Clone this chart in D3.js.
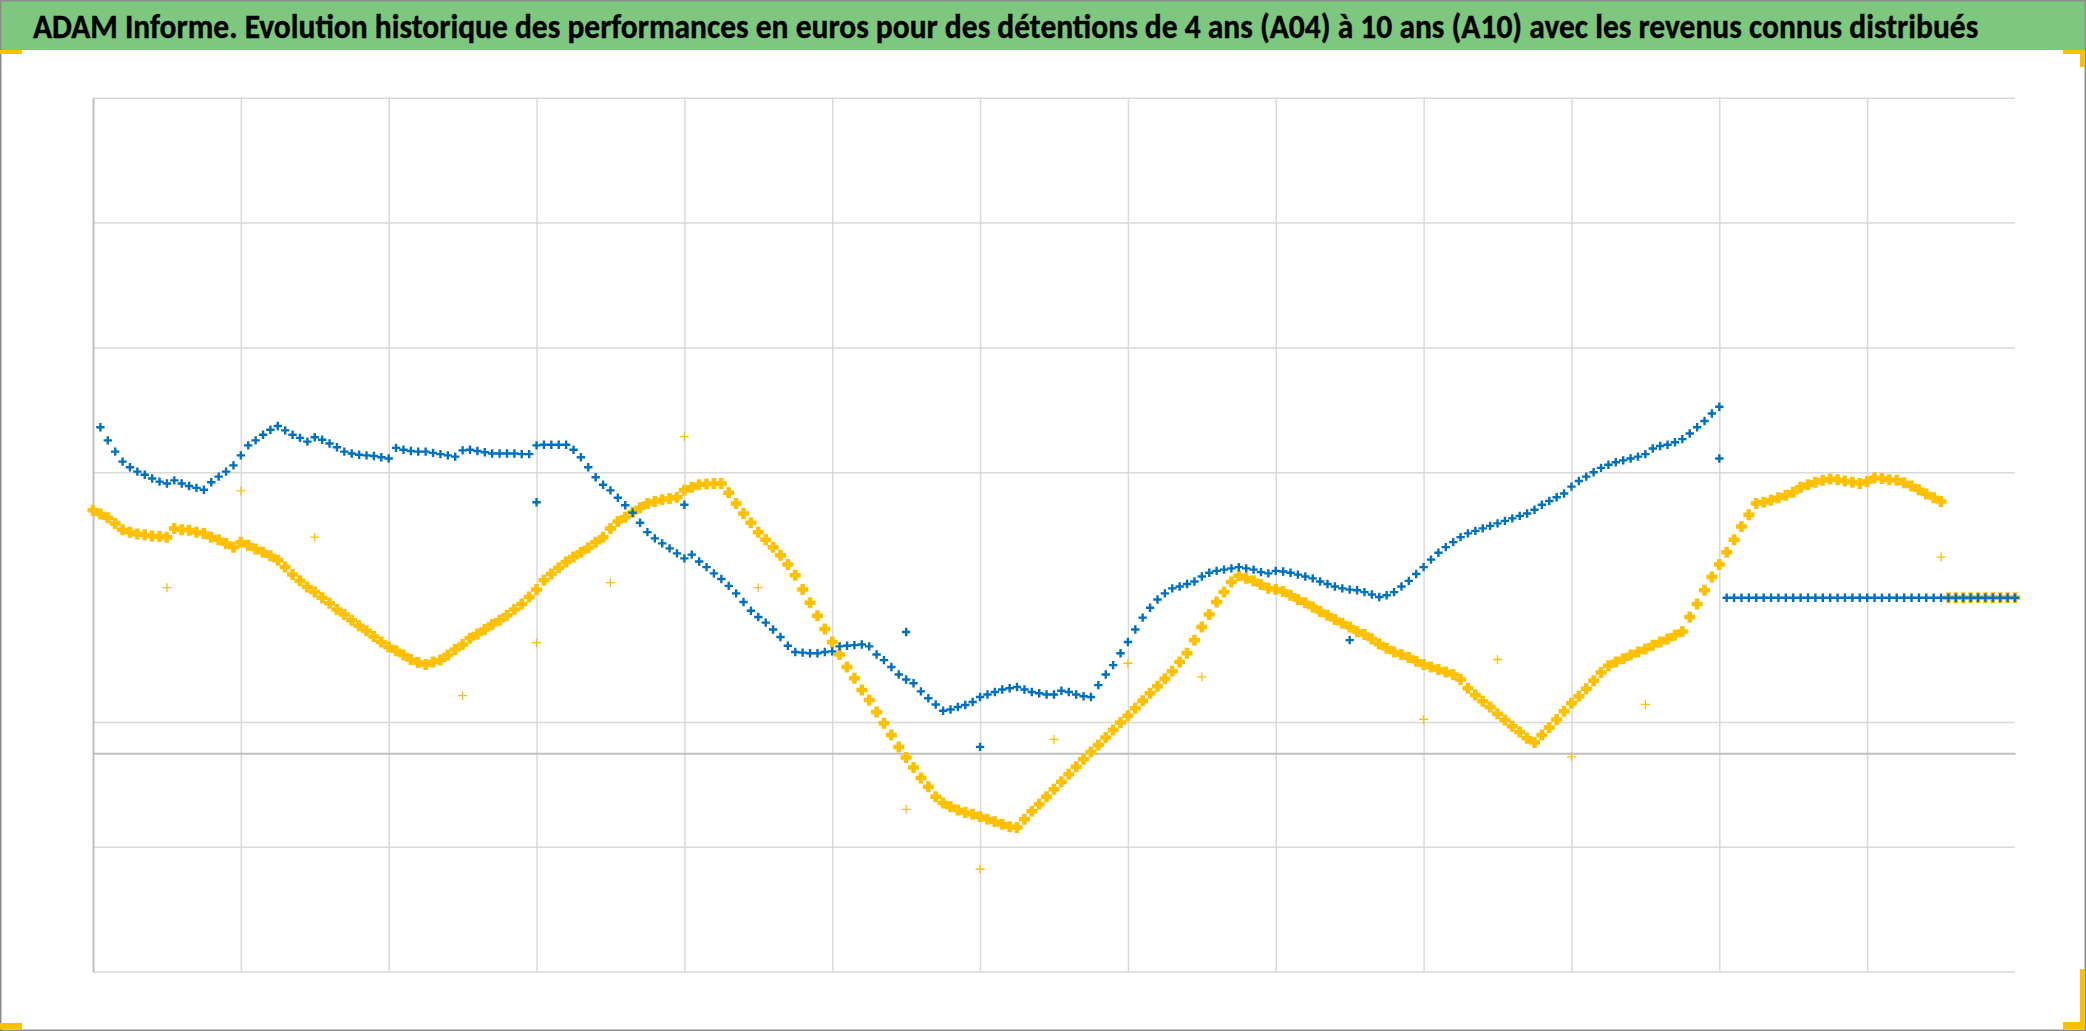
<!DOCTYPE html>
<html><head><meta charset="utf-8">
<script src="https://cdn.jsdelivr.net/npm/d3@7"></script>
<style>html,body{margin:0;padding:0;background:#fff;overflow:hidden}</style>
</head><body>
<svg id="c" width="2086" height="1031"></svg>
<script>
const titleText = "ADAM Informe. Evolution historique des performances en euros pour des détentions de 4 ans (A04) à 10 ans (A10) avec les revenus connus distribués";

// x: period index (20 periods per vertical grid interval), 0..260
const xDomain = [0, 260];
const xGridIdx = [20, 40, 60, 80, 100, 120, 140, 160, 180, 200, 220, 240];
// y: performance values
const yDomain = [-35, 105];
const yGridValues = [-35, -15, 5, 45, 65, 85, 105];

// Blue series, one value per period (null = no value)
const blueValues = [null,
52.2,50.1,48.3,46.7,45.8,45.1,44.6,44.0,43.5,43.2,
43.7,43.2,42.8,42.5,42.2,43.4,44.3,45.1,46.1,47.7,
49.3,50.1,51.0,51.8,52.4,51.7,51.0,50.5,49.9,50.6,
50.2,49.6,49.0,48.3,48.0,47.8,47.7,47.6,47.4,47.2,
48.9,48.6,48.4,48.3,48.3,48.1,47.9,47.7,47.5,48.5,
48.6,48.4,48.2,48.0,48.0,48.0,48.0,47.9,47.9,49.3,
49.4,49.4,49.4,49.4,48.6,47.4,45.8,44.2,43.0,42.1,
40.9,39.7,38.5,36.9,35.4,34.4,33.6,32.8,32.0,31.2,
31.8,30.7,29.8,28.8,27.9,26.8,25.6,24.2,22.8,21.8,
20.9,19.8,18.6,17.2,16.2,16.1,16.0,16.0,16.2,16.3,
17.1,17.2,17.3,17.4,17.1,15.8,14.9,13.8,12.6,11.8,
11.2,9.9,8.8,7.8,6.8,7.0,7.4,7.7,8.2,9.0,
9.4,9.8,10.2,10.4,10.6,10.2,9.8,9.6,9.4,9.4,
10.0,9.8,9.4,9.1,9.0,10.9,12.6,14.1,16.0,17.8,
19.8,21.7,23.3,24.6,25.6,26.4,26.7,27.1,27.5,28.3,
28.9,29.2,29.4,29.6,29.8,29.6,29.4,29.0,28.8,29.2,
29.1,28.9,28.6,28.3,28.0,27.5,27.1,26.7,26.4,26.2,
26.1,25.8,25.4,25.0,25.3,25.8,26.7,27.6,28.7,29.8,
31.0,32.1,33.0,33.8,34.6,35.2,35.6,36.0,36.4,36.8,
37.2,37.6,38.0,38.4,39.0,39.8,40.4,41.0,41.6,42.7,
43.6,44.3,45.0,45.7,46.2,46.6,46.9,47.2,47.5,47.9,
48.8,49.2,49.4,49.8,50.3,51.2,52.2,53.2,54.4,55.5,
24.9,24.9,24.9,24.9,24.9,24.9,24.9,24.9,24.9,24.9,
24.9,24.9,24.9,24.9,24.9,24.9,24.9,24.9,24.9,24.9,
24.9,24.9,24.9,24.9,24.9,24.9,24.9,24.9,24.9,24.9,
24.9,24.9,24.9,24.9,24.9,24.9,24.9,24.9,24.9,24.9
];
const blueExtraIdx = [60, 80, 110, 120, 170, 220];
const blueExtraVal = [40.2, 39.8, 19.4, 1.0, 18.1, 47.2];

// Yellow series, one value per period
const yellowValues = [
38.9,38.3,37.7,36.8,35.8,35.4,35.1,35.0,34.8,34.7,
34.6,36.0,35.8,35.7,35.4,35.2,34.6,34.2,33.6,33.0,
33.8,33.3,32.7,32.2,31.6,30.9,29.8,28.6,27.6,26.6,
25.8,24.9,24.0,23.0,22.2,21.3,20.4,19.6,18.7,17.8,
17.0,16.4,15.7,15.0,14.5,14.2,14.6,14.9,15.7,16.6,
17.4,18.4,19.1,19.8,20.6,21.3,22.1,23.0,23.9,25.0,
26.2,27.7,28.7,29.7,30.6,31.4,32.2,32.9,33.8,34.6,
36.0,37.1,37.8,38.6,39.3,40.0,40.3,40.6,40.8,41.0,
42.1,42.6,43.0,43.1,43.2,43.2,41.7,40.0,38.4,36.9,
35.4,34.2,33.0,31.7,30.2,28.5,26.2,24.1,22.0,19.9,
17.8,15.8,13.8,12.0,10.1,8.5,6.6,4.8,2.9,1.0,
-0.7,-2.3,-4.0,-5.4,-7.0,-8.0,-8.6,-9.1,-9.5,-9.8,
-10.2,-10.6,-11.0,-11.4,-11.8,-11.9,-10.6,-9.3,-8.2,-7.0,
-5.8,-4.6,-3.4,-2.2,-1.0,0.2,1.3,2.5,3.7,4.9,
6.0,7.2,8.4,9.6,10.7,11.9,13.1,14.6,16.0,18.1,
20.2,22.2,24.2,25.8,27.4,28.4,28.0,27.6,27.0,26.4,
26.2,25.9,25.3,24.6,24.1,23.4,22.7,22.1,21.4,20.8,
20.2,19.5,19.0,18.3,17.5,16.8,16.2,15.8,15.3,14.7,
14.2,13.8,13.4,13.0,12.6,11.8,10.4,9.3,8.3,7.4,
6.3,5.3,4.3,3.4,2.4,1.7,2.9,4.1,5.4,6.7,
8.0,9.1,10.3,11.6,12.9,14.0,14.6,15.1,15.7,16.2,
16.7,17.3,17.8,18.3,18.9,19.5,21.8,23.9,26.1,28.2,
30.2,32.2,34.2,36.3,38.2,40.0,40.2,40.5,40.9,41.3,
41.8,42.6,43.0,43.4,43.7,43.9,43.8,43.6,43.4,43.2,
43.5,44.1,44.0,43.8,43.7,43.3,42.8,42.2,41.5,40.9,
40.3,
24.9,24.9,24.9,24.9,24.9,24.9,24.9,24.9,24.9,24.9
];
const yellowExtraIdx = [10, 20, 30, 50, 60, 70, 80, 90, 110, 120, 130, 140, 150, 180, 190, 200, 210, 250];
const yellowExtraVal = [26.5, 42.0, 34.6, 9.2, 17.7, 27.3, 50.7, 26.5, -9.0, -18.6, 2.2, 14.4, 12.2, 5.4, 15.0, -0.6, 7.8, 31.4];

const W = 2086, H = 1031;
const plot = {left: 93, right: 2015, top: 97.7, bottom: 971.6};
const BLUE = "#0070C0", YELLOW = "#FFC000";

const svg = d3.select("#c");
svg.append("rect").attr("width", W).attr("height", H).attr("fill", "#fff");

// title bar
svg.append("rect").attr("x", 0).attr("y", 0).attr("width", W).attr("height", 50).attr("fill", "#7DC87E");
const titleG = svg.append("g");
const title = titleG.append("text")
  .attr("x", 0).attr("y", 0)
  .attr("font-family", "Carlito, 'Liberation Sans Narrow', 'Open Sans', sans-serif")
  .attr("font-weight", "bold").attr("font-size", 34).attr("fill", "#000")
  .attr("stroke", "#000").attr("stroke-width", 0.4)
  .text(titleText);
const natural = title.node().getComputedTextLength();
const sx = 1946 / natural;
titleG.attr("transform", `translate(33,37.5) scale(${sx},1)`);

const x = d3.scaleLinear().domain(xDomain).range([plot.left, plot.right]);
const y = d3.scaleLinear().domain(yDomain).range([plot.bottom, plot.top]);

// horizontal gridlines
const gy = svg.append("g").attr("transform", `translate(${plot.left},0)`)
  .call(d3.axisLeft(y).tickValues(yGridValues).tickSize(-(plot.right - plot.left)).tickFormat(""));
gy.select(".domain").remove();
gy.selectAll(".tick line").attr("stroke", "#d9d9d9").attr("stroke-width", 1.5);

// vertical gridlines
const gx = svg.append("g").attr("transform", `translate(0,${plot.bottom})`)
  .call(d3.axisBottom(x).tickValues(xGridIdx).tickSize(-(plot.bottom - plot.top)).tickFormat(""));
gx.select(".domain").remove();
gx.selectAll(".tick line").attr("stroke", "#d9d9d9").attr("stroke-width", 1.5);

// zero axis line
const zx = svg.append("g").attr("transform", `translate(0,${y(0)})`)
  .call(d3.axisBottom(x).tickValues([]).tickSizeOuter(0));
zx.select(".domain").attr("stroke", "#bfbfbf").attr("stroke-width", 2);

// left axis line
const ly = svg.append("g").attr("transform", `translate(${plot.left},0)`)
  .call(d3.axisLeft(y).tickValues([]).tickSizeOuter(0));
ly.select(".domain").attr("stroke", "#bfbfbf").attr("stroke-width", 2);

const plus = s => `M${-s},0H${s}M0,${-s}V${s}`;
function drawSeries(values, color, size, width) {
  const pts = values.map((v, i) => ({i, v})).filter(d => d.v !== null);
  svg.append("g").selectAll("path").data(pts).join("path")
    .attr("d", plus(size))
    .attr("transform", d => `translate(${x(d.i)},${y(d.v)})`)
    .attr("fill", "none").attr("stroke", color).attr("stroke-width", width);
}
function drawExtra(idx, vals, color, size, width) {
  const pts = idx.map((i, k) => ({i, v: vals[k]}));
  svg.append("g").selectAll("path").data(pts).join("path")
    .attr("d", plus(size))
    .attr("transform", d => `translate(${x(d.i)},${y(d.v)})`)
    .attr("fill", "none").attr("stroke", color).attr("stroke-width", width);
}
drawSeries(yellowValues, YELLOW, 5.5, 4.5);
drawExtra(yellowExtraIdx, yellowExtraVal, YELLOW, 4.5, 1.3);
drawSeries(blueValues, BLUE, 4.2, 2.4);
drawExtra(blueExtraIdx, blueExtraVal, BLUE, 4.2, 2.4);

// outer border
svg.append("rect").attr("x", 0.75).attr("y", 0.75).attr("width", W - 1.5).attr("height", H - 1.5)
  .attr("fill", "none").attr("stroke", "#8c8c8c").attr("stroke-width", 1.5);

// selection handles
const handles = [
  [0, 50, 22, 4], [0, 1023, 22, 6],
  [2063, 50, 22, 4], [2080, 50, 5, 17],
  [2080, 969, 5, 60], [2063, 1022, 22, 7]
];
svg.append("g").selectAll("rect").data(handles).join("rect")
  .attr("x", d => d[0]).attr("y", d => d[1]).attr("width", d => d[2]).attr("height", d => d[3])
  .attr("fill", YELLOW);
</script>
</body></html>
